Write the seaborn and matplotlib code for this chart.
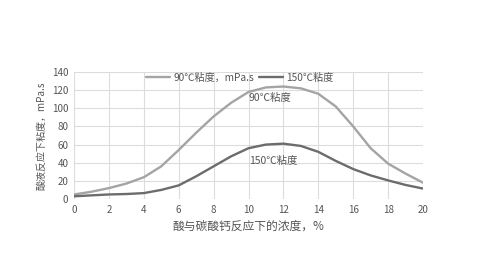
import matplotlib
matplotlib.use("Agg")
import matplotlib.pyplot as plt
import seaborn as sns
import pandas as pd

concentration = list(range(0, 21))
visc_90 = [5, 8, 12, 17, 24, 36, 54, 73, 91, 106, 118, 123, 124, 122, 116, 102, 80, 56, 39, 28, 18]
visc_150 = [3, 4, 5, 5.5, 6.5, 10, 15, 25, 36, 47, 56, 60, 61, 58.5, 52, 42, 33, 26, 20.5, 15.5, 11.5]
series_labels = ["90℃粘度，mPa.s", "150℃粘度"]
xticks = list(range(0, 21, 2))
yticks = list(range(0, 141, 20))

sns.set_style("white")
plt.rcParams['font.family'] = ['Noto Sans CJK SC', 'DejaVu Sans']

df = pd.DataFrame({
    "x": concentration * 2,
    "y": visc_90 + visc_150,
    "s": [series_labels[0]] * len(concentration) + [series_labels[1]] * len(concentration),
})

fig = plt.figure(figsize=(4.91, 2.80), dpi=100)
ax = fig.add_axes([74/491, 1-199/280, (423-74)/491, (199-72)/280])

sns.lineplot(data=df, x="x", y="y", hue="s", palette=["#a4a4a4", "#6c6c6c"],
             linewidth=1.7, ax=ax)

ax.set_xlim(0, 20)
ax.set_ylim(0, 140)
ax.set_xticks(xticks)
ax.set_yticks(yticks)
ax.grid(True, color="#dcdcdc", linewidth=0.8)
for s in ax.spines.values():
    s.set_visible(False)
ax.tick_params(axis="both", length=0, labelsize=7, colors="#555555", pad=4)

ax.set_xlabel("酸与碳酸钙反应下的浓度，%", fontsize=8.5, color="#555555", labelpad=4)
ax.set_ylabel("酸液反应下粘度，mPa.s", fontsize=7.2, color="#555555", labelpad=4)

ax.text(11.2, 111, "90℃粘度", fontsize=7.5, color="#555555", ha="center", va="center")
ax.text(11.4, 42, "150℃粘度", fontsize=7.5, color="#555555", ha="center", va="center")

leg = ax.legend(loc="upper center", bbox_to_anchor=(0.475, 1.065), ncol=2, frameon=False,
                fontsize=7.3, handlelength=2.4, columnspacing=0.5, handletextpad=0.3,
                labelcolor="#555555")

fig.savefig("out.png", dpi=100)
